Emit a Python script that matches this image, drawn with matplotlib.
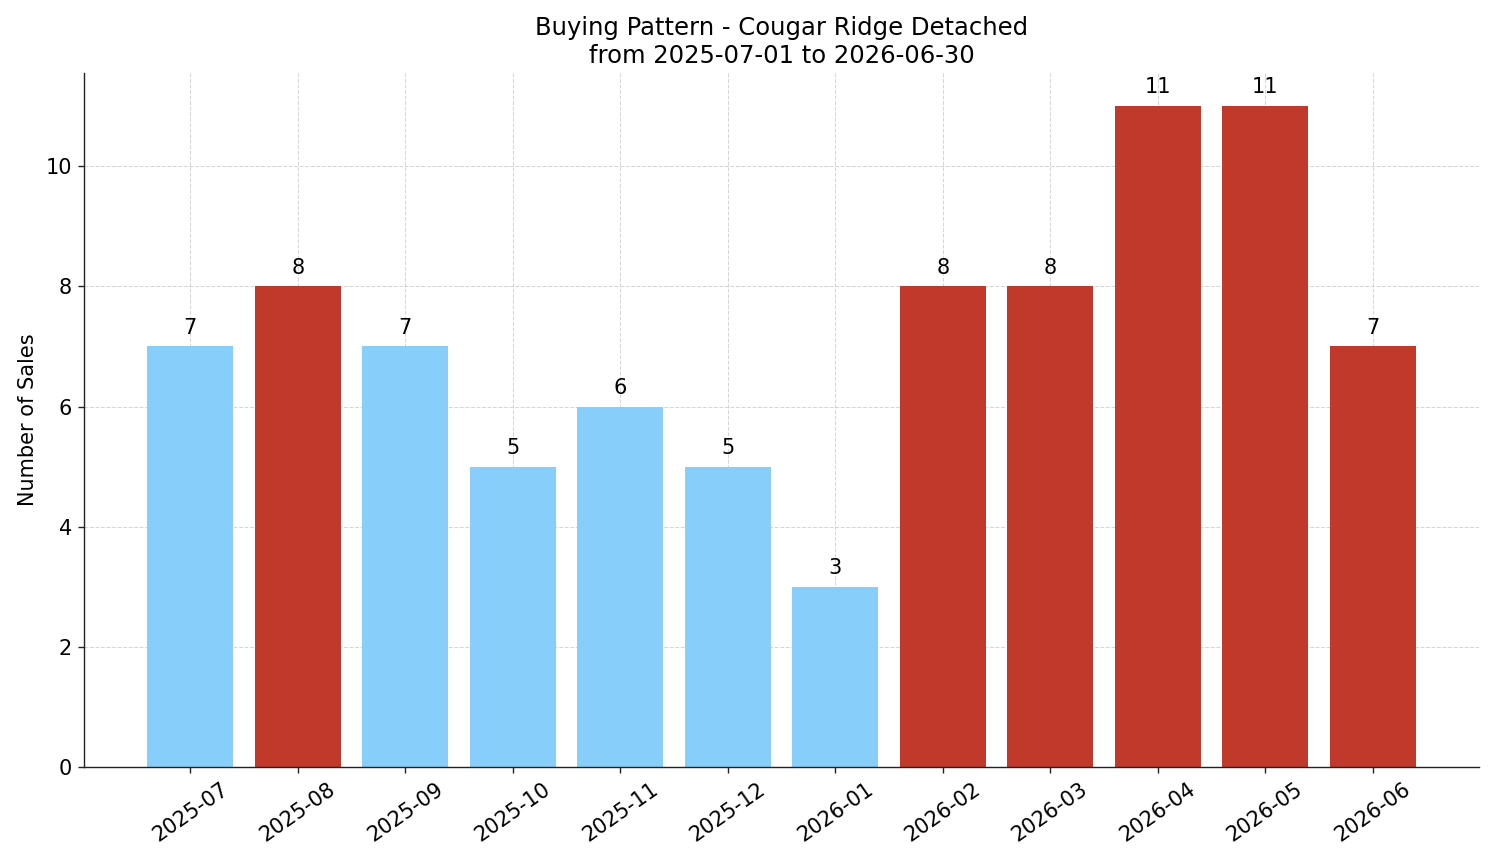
import matplotlib.pyplot as plt

months = ["2025-07", "2025-08", "2025-09", "2025-10", "2025-11", "2025-12",
          "2026-01", "2026-02", "2026-03", "2026-04", "2026-05", "2026-06"]
sales = [7, 8, 7, 5, 6, 5, 3, 8, 8, 11, 11, 7]
hot = [False, True, False, False, False, False, False, True, True, True, True, True]

BLUE = "#87CEFA"
RED = "#C0392B"

fig = plt.figure(figsize=(11.952, 6.904), dpi=125)
ax = fig.add_axes([0.0562, 0.1112, 0.9338, 0.8042])

colors = [RED if h else BLUE for h in hot]
x = list(range(len(months)))
bars = ax.bar(x, sales, color=colors, width=0.8, zorder=2)

for b, v in zip(bars, sales):
    ax.annotate(str(v), (b.get_x() + b.get_width() / 2, b.get_height()),
                xytext=(0, 5), textcoords="offset points",
                ha="center", va="bottom", fontsize=12)

ax.set_xticks(x)
ax.set_xticklabels(months, rotation=35, fontsize=12)
ax.tick_params(axis="y", labelsize=12)
ax.tick_params(colors="#222222", labelcolor="black")
ax.set_ylabel("Number of Sales", fontsize=12)
ax.set_title("Buying Pattern - Cougar Ridge Detached\nfrom 2025-07-01 to 2026-06-30", fontsize=14)

ax.grid(True, linestyle="--", linewidth=0.6, color="#bbbbbb", alpha=0.6, zorder=3)
ax.spines["top"].set_visible(False)
ax.spines["right"].set_visible(False)
for s in ("left", "bottom"):
    ax.spines[s].set_color("#222222")

fig.savefig("out.png", dpi=125)
